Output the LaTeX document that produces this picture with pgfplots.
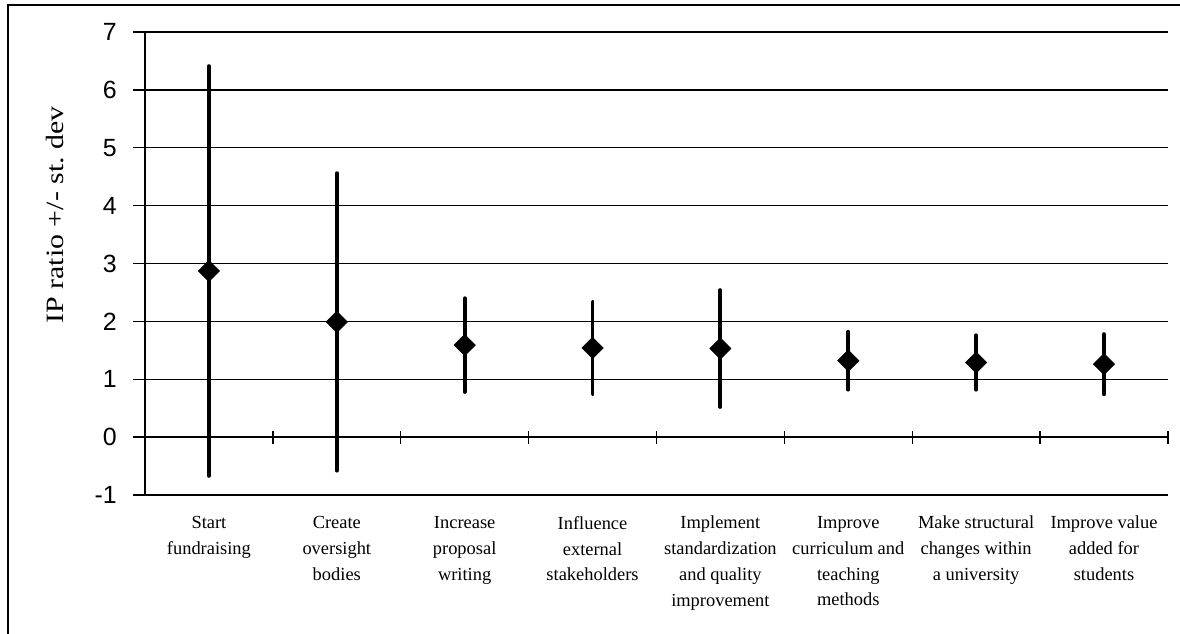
\documentclass[border=0pt]{standalone}
\usepackage{pgfplots}
\pgfplotsset{compat=1.18}
\usepackage{fontspec}
\setmainfont{Liberation Serif}
\newfontfamily\arial{Liberation Sans}
\begin{document}
\begin{tikzpicture}[x=1bp,y=1bp]
\useasboundingbox (0,0) rectangle (1180,634);
\draw[line width=2bp] (8,0) -- (8,629) -- (1180,629);
\begin{axis}[
  at={(145bp,139bp)}, anchor=south west,
  scale only axis, width=1023bp, height=463bp,
  xmin=0.5, xmax=8.5, ymin=-1, ymax=7,
  axis x line*=bottom, axis y line*=left,
  axis line style={line width=1.3bp, -},
  xtick={1,...,8},
  xticklabels={{Start\\fundraising},{Create\\oversight\\bodies},{Increase\\proposal\\writing},{Influence\\external\\stakeholders},{Implement\\standardization\\and quality\\improvement},{Improve\\curriculum and\\teaching\\methods},{Make structural\\changes within\\a university},{Improve value\\added for\\students}},
  x tick style={draw=none},
  xticklabel style={font=\fontsize{18.5}{26}\selectfont, align=center, anchor=north, inner sep=0pt, yshift=-9bp},
  ytick={-1,0,...,7},
  yticklabels={-1,0,1,2,3,4,5,6,7},
  yticklabel style={font=\arial\fontsize{25}{25}\selectfont, inner sep=0pt, anchor=east, xshift=-16bp},
  y tick style={line width=1.3bp, black},
  tick align=outside, major tick length=12bp,
  ymajorgrids, grid style={line width=1.3bp, black},
  ylabel={\scalebox{1.2}[1]{IP ratio +/- st.\ dev}},
  ylabel style={font=\fontsize{25}{25}\selectfont, at={(axis description cs:-0.088,0.605)}, anchor=center},
  clip=false,
]
\pgfplotsinvokeforeach{1.5,2.5,3.5,4.5,5.5,6.5,7.5,8.5}{
  \draw[line width=1.3bp] (axis cs:#1,0) ++(0pt,-6.5bp) -- ++(0pt,13bp);
}
\addplot[black, only marks, mark=square*, mark size=7.6bp, mark options={rotate=45, fill=black},
  error bars/.cd, y dir=both, y explicit, error mark=none,
  error bar style={line width=3.8bp, line cap=round, black}]
  table[x=x, y=y, y error=e] {
x y e
1 2.87 3.54
2 1.99 2.57
3 1.59 0.81
4 1.54 0.80
5 1.53 1.01
6 1.32 0.50
7 1.29 0.47
8 1.26 0.52
};
\end{axis}
\end{tikzpicture}
\end{document}
